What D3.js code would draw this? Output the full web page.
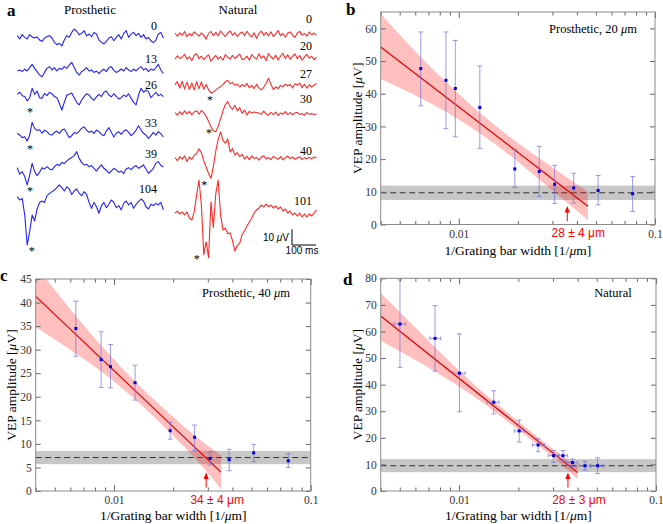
<!DOCTYPE html>
<html><head><meta charset="utf-8">
<script src="https://cdn.jsdelivr.net/npm/d3@7"></script>
<style>body{margin:0;background:#fff}svg{display:block}</style>
</head><body>
<svg id="fig" width="663" height="524"></svg>
<script>
// ================= DATA =================
// Panel a: VEP traces (µV, one sample every 10 ms)
const prosLabels = ["0","13","26","33","39","104"];
const natLabels  = ["0","20","27","30","40","101"];
const pros0   = [1.5,-0.6,2.1,0.4,-0.6,2.1,0.8,0,0.8,-1.3,-2.1,0,0.8,1.5,0,-2.7,-4.2,-3.3,-5.0,-1.3,1.5,0.4,3.5,5.6,4.2,2.1,2.9,4.6,1.3,2.5,0.8,3.5,2.5,-1.3,-2.7,-3.7,-2.1,0,0.8,-1.7,0.4,2.1,-0.6,2.9,4.6,0.4,2.5,3.5,1.5,2.9,0.4,2.1,-0.6,0.4,-1.7,-2.9,-1.3,2.5,3.5,0];
const pros13  = [-0.6,0,-1,0.6,-0.6,1.5,3.5,1,-1,-3.1,-4.2,-1.5,1,2.1,0,1.5,-0.6,1,0.4,2.1,1,3.1,4.8,1.5,-1.5,-3.1,-1,0,1.5,-0.6,0,-1.5,-0.6,-2.3,-0.6,0.6,-1,1.5,2.1,-0.2,-1.5,-0.6,0.6,-0.6,1.5,0,-1,0.6,-0.6,1,2.1,0,1,-1,0.6,-0.2,1.5,3.5,0,-2.1];
const pros26  = [0.4,1.7,-0.4,-1,-3.7,-1.7,4.2,0.4,2.5,-1.7,-2.1,1,-0.4,1.7,0.8,-1,-1.7,-5.2,-9.4,-4.6,0,0.4,1.2,-1.7,-4.6,-6.2,-3.1,-1,0.8,0,-2.1,-3.3,-1.2,0.4,-1,1.7,2.5,0,-1.2,0.8,-0.8,-2.5,-1.7,0,-1,0.8,-2.1,-4.6,-6.2,0,4.2,1.7,3.1,2.1,-1.7,0,1.7,-0.4,0.4,-1];
const pros33  = [-1,-2.1,-3.7,-3.1,-5.8,-2.1,5.8,2.1,0.8,1.2,-1,1,0,-1.7,-2.1,-0.4,0.4,-1,1,1.7,-1,-3.7,-2.5,-0.4,-1.2,0.4,2.1,3.1,1,-0.4,0.4,-1,1,0,-1.7,-2.5,0.4,2.5,-0.4,-3.3,-1,0,-1.7,0.4,1.2,-0.4,-2.5,-1,1,3.7,1,-1,-2.1,-4.2,-2.5,-0.4,-2.1,0,-1.2,-3.3];
const pros39  = [0.4,-3.7,-2.1,-5.2,-10.4,-4.2,3.1,-2.1,-4.6,-2.5,0.4,-0.4,1,-0.4,-1,1,2.5,1.7,3.7,2.9,4.6,5.8,6.7,7.9,10.4,6.2,3.7,2.1,2.5,1,1.7,0,-1.7,0.4,2.1,0,-1.2,-3.1,-1.7,0,-1,-2.5,-1.7,-3.3,-0.4,0.4,-0.8,0.8,1.7,0,1,2.1,-0.4,-3.1,-1.7,0,3.1,4.2,1.7,0.8];
const pros104 = [2.1,0,1,-9.4,-28.1,-19.8,-9.4,-13.1,-5.6,-1.5,-0.6,-1.5,2.7,4,5.2,6.2,7.7,9.4,7.7,5.6,8.3,6.9,3.5,5.6,6.9,4.2,2.7,5.2,3.5,-1.5,-5.2,-1.5,-4.2,-8.3,-3.5,-1.5,-4.8,-2.7,0,-1.5,-4.8,-3.5,-6.2,-2.1,-0.6,-3.1,-1.5,-5.2,-2.7,-1,0.6,-0.6,-4.2,-5.6,-2.7,-3.5,-2.1,-3.1,-1.5,-6.2];
const nat0    = [0.8,-1.2,0.9,-0.6,1.8,-1.5,0.5,-0.9,1.5,0.3,-1.2,0.9,-0.5,-3.0,0.6,1.8,-0.8,1.2,-0.9,2.0,0.3,-1.4,0.8,2.2,-0.6,1.0,-1.5,0.5,1.4,-0.8,1.9,-0.3,-1.6,0.9,-2.6,0.6,2.0,-0.5,1.2,-1.0,1.6,-1.4,0.3,2.4,-0.9,0.5,-1.8,0.8,1.5,-0.6,-2.0,0.9,1.8,-0.5,0.6,-1.2,1.4,-0.3,0.8,-0.9];
const nat20   = [-0.8,1.2,-0.5,0.3,2.2,-0.9,0.6,-1.8,1.4,2.6,-0.6,0.9,-1.2,0.5,1.8,-2.2,-0.3,1.4,-0.9,0.6,-1.6,2.0,0.3,-0.8,1.5,-0.5,0.9,2.2,-1.2,-0.6,1.0,-1.5,1.9,0.3,-0.9,2.4,-0.3,1.2,-1.8,2.6,0.6,-0.8,1.6,-1.4,0.9,2.8,-0.5,1.8,-1.0,0.8,2.4,-0.6,1.4,-1.6,0.5,2.0,-0.3,0.9,-1.2,0.3];
const nat27   = [0.5,2.5,-1.5,2.8,-2,2.2,-2.4,1.8,-2.6,2.6,-1.8,2.4,-2.2,0.8,-2.5,-4.5,-4.0,-2.8,-1.5,-0.6,0.5,2.5,3.4,1.2,2.0,0.2,1.0,-0.8,0.6,-0.4,1.4,-1.2,0.2,-1.8,0.8,-1.5,-2.6,-1.0,1.5,4.6,1.0,-2.4,-0.8,-1.8,0.2,-0.6,1.0,-0.2,0.8,-1.4,1.2,0.4,1.6,-1.2,0.9,-1.6,0.6,-0.8,0.4,1.4];
const nat30   = [0.5,-1.2,1.0,-0.8,1.5,-0.4,1.2,-1.0,0.8,1.6,-0.6,1.8,0.4,-2.0,-5.0,-8.5,-11.0,-11.5,-8.0,-3.5,1.5,5.5,7.3,4.0,2.5,5.0,1.5,3.5,0.0,2.0,-1.0,1.2,0.3,0.8,0.5,0.2,-0.6,1.4,-0.4,-1.2,0.6,-0.8,0.8,-1.4,0.2,-0.6,1.0,-0.8,0.4,-1.0,0.2,0.6,-0.8,-0.2,-1.2,0.4,-0.6,-0.2,-0.8,-0.4];
const nat40   = [0.5,-1.5,1.0,-0.5,1.5,-2.0,0.8,-0.6,1.8,3.0,6.0,3.5,-1.5,-5.5,-9.5,-12.5,-5.0,4.5,12.0,16.5,11.0,9.5,12.0,4.0,6.0,2.0,3.5,1.0,2.5,-0.5,1.2,-0.8,1.5,-0.2,0.6,-1.2,0.8,1.6,-0.4,0.5,-0.8,1.2,0.2,-0.6,1.0,-1.0,0.4,1.4,-0.2,0.8,-0.6,0.2,1.0,-0.8,0.4,-0.2,0.6,-0.4,0.8,0.2];
const nat101  = [0,1.2,-0.6,0.6,-1.2,0.6,-3.1,-4.4,0.6,11.2,20.6,5,-26,-18,-28,7,-9,12,20.6,-1.2,-10.6,-9.5,-13.0,-12.4,-17.5,-23.8,-20.2,-18.8,-13.4,-11.2,-8.1,-5.6,-3.1,0,1.9,3.1,5,3.8,5.6,3.8,5,3.1,4.4,2.5,3.8,1.2,2.5,0,1.2,-1.2,0,-1.9,0,-2.5,-0.6,-2.5,-0.6,-1.9,0,1.9];

// Panels b, c: grating frequencies (1/µm) and VEP amplitudes (µV)
const gratingX = [0.0064,0.0086,0.0096,0.0128,0.0193,0.0257,0.0308,0.0385,0.0513,0.0769];
const vep20    = [47.7,44.1,41.6,35.8,17.0,16.2,12.3,11.2,10.4,9.4];
const vep20Hi  = [58.9,58.9,56.3,48.5,22.9,23.9,18.1,15.7,15.0,14.7];
const vep20Lo  = [36.3,29.3,26.8,23.3,11.4,8.6,6.4,6.6,6.0,4.0];
const vep40    = [34.5,27.9,26.4,23.0,12.8,11.4,6.9,6.65,8.1,6.4];
const vep40Hi  = [40.3,33.8,31.1,26.7,14.6,14.0,8.4,8.85,9.9,7.9];
const vep40Lo  = [28.6,22.0,21.9,19.3,11.0,8.6,5.5,4.3,6.2,5.0];
// Panel d: natural vision
const natX     = [0.00501,0.00755,0.01004,0.0150,0.0202,0.0252,0.0302,0.0337,0.0377,0.0436,0.0505];
const natXLo   = [0.00467,0.0071,0.00936,0.01393,0.01905,0.0236,0.0284,0.0318,0.0352,0.0407,0.0467];
const natXHi   = [0.00536,0.00807,0.01074,0.01596,0.02143,0.0271,0.0322,0.0356,0.0400,0.0463,0.0536];
const vepNat   = [62.8,57.4,44.3,33.4,22.6,17.3,13.3,13.3,10.7,9.5,9.5];
const vepNatHi = [79.4,69.7,59.1,37.7,26.7,19.6,15.2,15.2,12.0,11.2,12.5];
const vepNatLo = [46.5,45.1,29.8,29.0,18.4,14.8,10.8,11.3,9.2,7.8,6.6];

// Linear fits (endpoints) and confidence bands
const fit20X = [0.004,0.0455], fit20Y = [54.3,5.6];
const fit40X = [0.004,0.035],  fit40Y = [41.3,4.0];
const fitNatX = [0.004,0.040], fitNatY = [65.8,6.9];
const band20X = [0.004,0.006,0.009,0.013,0.018,0.025,0.035,0.0455];
const band20Hi = [64.5,53.0,42.5,33.8,27.0,20.8,14.7,10.0];
const band20Lo = [44.6,39.5,33.8,27.6,21.4,14.4,7.1,1.4];
const band40X = [0.004,0.006,0.009,0.013,0.018,0.025,0.035];
const band40Hi = [47.8,38.6,30.0,23.0,17.4,12.2,7.6];
const band40Lo = [34.8,30.0,24.8,19.2,13.6,7.6,0.5];
const bandNatX = [0.004,0.006,0.009,0.013,0.018,0.025,0.035,0.040];
const bandNatHi = [74.5,61.5,48.5,37.6,29.0,20.4,12.2,9.6];
const bandNatLo = [56.5,49.3,41.5,33.6,25.6,17.4,8.4,4.4];

// Noise level (mean, band) for b, c, d
const noiseMean = [9.7,7.1,9.5];
const noiseLo   = [7.5,5.7,7.1];
const noiseHi   = [11.9,8.5,12.0];
// Acuity
const acuityX     = [1/28,1/34,1/28];
const acuityLabel = ["28 \u00b1 4 \u03bcm","34 \u00b1 4 \u03bcm","28 \u00b1 3 \u03bcm"];
const panelTitles = ["Prosthetic, 20 ","Prosthetic, 40 ","Natural"];
// Ticks
const yTicksB = [0,10,20,30,40,50,60];
const yTicksC = [0,5,10,15,20,25,30,35,40,45];
const yTicksD = [0,10,20,30,40,50,60,70,80];
const xMajor = [0.01,0.1];
const xMajorLabels = ["0.01","0.1"];
const xMinor = [0.004,0.005,0.006,0.007,0.008,0.009,0.02,0.03,0.04,0.05,0.06,0.07,0.08,0.09];

// ================= DRAW =================
const svg = d3.select('#fig');
const serif = "'Liberation Serif','Times New Roman',serif";
const sans = "'Liberation Sans',Arial,sans-serif";

// ---- Panel a ----
const uv = d3.scaleLinear().domain([0,10]).range([0,-16]);
const xPros = d3.scaleLinear().domain([0,590]).range([17.3,163.3]);
const xNat  = d3.scaleLinear().domain([0,590]).range([175,316.5]);
const prosTraces = [pros0,pros13,pros26,pros33,pros39,pros104];
const natTraces  = [nat0,nat20,nat27,nat30,nat40,nat101];
const prosBase = [38,70,95,131.7,168.3,200];
const natBase  = [34.3,57.7,85.7,113.3,158.3,213];
const prosLabY = [29.5,62.5,89,127,158,193];
const natLabY  = [23.3,50,77.5,103,155,205];
const prosStar = [null,null,[30,110],[30,147],[30,189],[31.7,249.5]];
const natStar  = [null,null,[210,98],[209,131],[204.3,183.3],[196.7,257.7]];

function drawTraces(traces, xs, bases, labs, labY, labX, stars, color){
  traces.forEach((tr,k)=>{
    const ln = d3.line().x((d,i)=>xs(i*10)).y(d=>bases[k]+uv(d));
    svg.append('path').datum(tr).attr('d',ln).attr('fill','none')
      .attr('stroke',color).attr('stroke-width',1.1).attr('stroke-linejoin','round');
    svg.append('text').attr('x',labX).attr('y',labY[k]).attr('text-anchor','end')
      .style('font-family',serif).style('font-size','12px').text(labs[k]);
    if(stars[k]) svg.append('text').attr('x',stars[k][0]).attr('y',stars[k][1]+5.5)
      .attr('text-anchor','middle').style('font-family',serif).style('font-size','12px').text('*');
  });
}
drawTraces(prosTraces,xPros,prosBase,prosLabels,prosLabY,157,prosStar,'#2222ff');
drawTraces(natTraces,xNat,natBase,natLabels,natLabY,312,natStar,'#ff2a2a');

svg.append('text').attr('x',90).attr('y',14).attr('text-anchor','middle')
  .style('font-family',serif).style('font-size','13px').text('Prosthetic');
svg.append('text').attr('x',238).attr('y',14).attr('text-anchor','middle')
  .style('font-family',serif).style('font-size','13px').text('Natural');
// scale bar
svg.append('path').attr('d','M292,229.3V245H316').attr('fill','none').attr('stroke','#000').attr('stroke-width',1);
const sb = svg.append('text').attr('x',289).attr('y',240.5).attr('text-anchor','end')
  .style('font-family',sans).style('font-size','10px');
sb.append('tspan').text('10 ');
sb.append('tspan').style('font-style','italic').text('\u03bc');
sb.append('tspan').text('V');
svg.append('text').attr('x',302).attr('y',253.5).attr('text-anchor','middle')
  .style('font-family',sans).style('font-size','10px').text('100 ms');

// panel letters
[['a',7,16],['b',346,15],['c',0,281],['d',343,285]].forEach(([t,x,y])=>{
  svg.append('text').attr('x',x).attr('y',y).style('font-family',serif)
    .style('font-size','17px').style('font-weight','bold').text(t);
});

// ---- Panels b, c, d ----
function panel(o){
  const g = svg.append('g');
  const x = d3.scaleLog().domain([0.004,0.1]).range([o.x0,o.x1]);
  const y = d3.scaleLinear().domain([0,o.ymax]).range([o.yb,o.yt]);
  const cid = 'clip'+o.id;
  svg.append('defs').append('clipPath').attr('id',cid).append('rect')
    .attr('x',o.x0).attr('y',o.yt).attr('width',o.x1-o.x0).attr('height',o.yb-o.yt);
  const pg = g.append('g').attr('clip-path',`url(#${cid})`);
  // noise band
  pg.append('rect').attr('x',o.x0).attr('width',o.x1-o.x0)
    .attr('y',y(noiseHi[o.k])).attr('height',y(noiseLo[o.k])-y(noiseHi[o.k]))
    .attr('fill','#000').attr('opacity',0.22);
  pg.append('line').attr('x1',o.x0).attr('x2',o.x1)
    .attr('y1',y(noiseMean[o.k])).attr('y2',y(noiseMean[o.k]))
    .attr('stroke','#333').attr('stroke-width',1).attr('stroke-dasharray','6,3.5');
  // confidence band
  const area = d3.area().x(d=>x(d[0])).y0(d=>y(d[1])).y1(d=>y(d[2])).curve(d3.curveMonotoneX);
  pg.append('path').datum(d3.zip(o.bandX,o.bandLo,o.bandHi)).attr('d',area)
    .attr('fill','#ff1a1a').attr('opacity',0.28);
  // fit line
  pg.append('path').datum(d3.zip(o.fitX,o.fitY))
    .attr('d',d3.line().x(d=>x(d[0])).y(d=>y(d[1])))
    .attr('stroke','#e00000').attr('stroke-width',1.2).attr('fill','none');
  // error bars
  const eb = g.append('g').attr('stroke','#7070d8').attr('stroke-opacity',0.7).attr('stroke-width',1);
  o.px.forEach((xv,i)=>{
    const X = x(xv);
    eb.append('line').attr('x1',X).attr('x2',X).attr('y1',y(o.lo[i])).attr('y2',y(o.hi[i]));
    eb.append('line').attr('x1',X-2.5).attr('x2',X+2.5).attr('y1',y(o.lo[i])).attr('y2',y(o.lo[i]));
    eb.append('line').attr('x1',X-2.5).attr('x2',X+2.5).attr('y1',y(o.hi[i])).attr('y2',y(o.hi[i]));
    if(o.xlo){
      const Y = y(o.py[i]);
      eb.append('line').attr('x1',x(o.xlo[i])).attr('x2',x(o.xhi[i])).attr('y1',Y).attr('y2',Y);
      eb.append('line').attr('x1',x(o.xlo[i])).attr('x2',x(o.xlo[i])).attr('y1',Y-2).attr('y2',Y+2);
      eb.append('line').attr('x1',x(o.xhi[i])).attr('x2',x(o.xhi[i])).attr('y1',Y-2).attr('y2',Y+2);
    }
  });
  g.selectAll('rect.pt').data(d3.zip(o.px,o.py)).join('rect').attr('class','pt')
    .attr('x',d=>x(d[0])-1.5).attr('y',d=>y(d[1])-1.5).attr('width',3).attr('height',3)
    .attr('fill','#0000e0');
  // axes
  const style = s=>{ s.select('.domain').remove();
    s.selectAll('line').attr('stroke','#666');
    s.selectAll('text').style('font-family',serif).style('font-size','11.5px').attr('fill','#333'); };
  g.append('g').attr('transform',`translate(0,${o.yb})`)
    .call(d3.axisBottom(x).tickValues(xMinor).tickSize(-3.5).tickFormat('')).call(style);
  g.append('g').attr('transform',`translate(0,${o.yt})`)
    .call(d3.axisTop(x).tickValues(xMinor).tickSize(-3.5).tickFormat('')).call(style);
  g.append('g').attr('transform',`translate(0,${o.yb})`)
    .call(d3.axisBottom(x).tickValues(xMajor).tickSize(-6).tickPadding(5)
      .tickFormat((d,i)=>xMajorLabels[i])).call(style);
  g.append('g').attr('transform',`translate(0,${o.yt})`)
    .call(d3.axisTop(x).tickValues(xMajor).tickSize(-6).tickFormat('')).call(style);
  g.append('g').attr('transform',`translate(${o.x0},0)`)
    .call(d3.axisLeft(y).tickValues(o.yticks).tickSize(-5).tickPadding(4)).call(style);
  g.append('g').attr('transform',`translate(${o.x1},0)`)
    .call(d3.axisRight(y).tickValues(o.yticks).tickSize(-5).tickFormat('')).call(style);
  g.append('rect').attr('x',o.x0).attr('y',o.yt).attr('width',o.x1-o.x0).attr('height',o.yb-o.yt)
    .attr('fill','none').attr('stroke','#8a8a8a').attr('stroke-width',1);
  // axis titles
  const yl = g.append('text').attr('transform',`translate(${o.ylx},${(o.yb+o.yt)/2}) rotate(-90)`)
    .attr('text-anchor','middle').style('font-family',serif).style('font-size','13.5px');
  yl.append('tspan').text('VEP amplitude [');
  yl.append('tspan').style('font-style','italic').text('\u03bc');
  yl.append('tspan').text('V]');
  const xl = g.append('text').attr('x',(o.x0+o.x1)/2).attr('y',o.xly)
    .attr('text-anchor','middle').style('font-family',serif).style('font-size','13.5px');
  xl.append('tspan').text('1/Grating bar width [1/');
  xl.append('tspan').style('font-style','italic').text('\u03bc');
  xl.append('tspan').text('m]');
  // title
  const tt = g.append('text').attr('x',o.tx).attr('y',o.ty).attr('text-anchor','end')
    .style('font-family',serif).style('font-size','12.5px');
  tt.append('tspan').text(panelTitles[o.k]);
  if(o.k<2){ tt.append('tspan').style('font-style','italic').text('\u03bc'); tt.append('tspan').text('m'); }
  // acuity arrow
  const ax = x(acuityX[o.k]);
  g.append('line').attr('x1',ax).attr('x2',ax).attr('y1',o.yb-3.5).attr('y2',o.yb-13)
    .attr('stroke','#ff0000').attr('stroke-width',1);
  g.append('path').attr('d',`M${ax},${o.yb-18.5}L${ax-2.6},${o.yb-12}L${ax+2.6},${o.yb-12}Z`).attr('fill','#ff0000');
  g.append('text').attr('x',ax+11).attr('y',o.yb+12.5).attr('text-anchor','middle')
    .style('font-family',sans).style('font-size','12px').attr('fill','#ff0000').text(acuityLabel[o.k]);
}

panel({id:'b',k:0,x0:380.7,x1:655,yb:224.5,yt:12,ymax:65,yticks:yTicksB,
  px:gratingX,py:vep20,hi:vep20Hi,lo:vep20Lo,fitX:fit20X,fitY:fit20Y,
  bandX:band20X,bandHi:band20Hi,bandLo:band20Lo,ylx:362,xly:254.5,tx:637,ty:32.5});
panel({id:'c',k:1,x0:35.7,x1:310.7,yb:491,yt:279,ymax:45,yticks:yTicksC,
  px:gratingX,py:vep40,hi:vep40Hi,lo:vep40Lo,fitX:fit40X,fitY:fit40Y,
  bandX:band40X,bandHi:band40Hi,bandLo:band40Lo,ylx:15.5,xly:520,tx:290,ty:297});
panel({id:'d',k:2,x0:380.7,x1:656,yb:491,yt:278.3,ymax:80,yticks:yTicksD,
  px:natX,py:vepNat,hi:vepNatHi,lo:vepNatLo,xlo:natXLo,xhi:natXHi,fitX:fitNatX,fitY:fitNatY,
  bandX:bandNatX,bandHi:bandNatHi,bandLo:bandNatLo,ylx:362,xly:520,tx:631.7,ty:297});
</script>
</body></html>
